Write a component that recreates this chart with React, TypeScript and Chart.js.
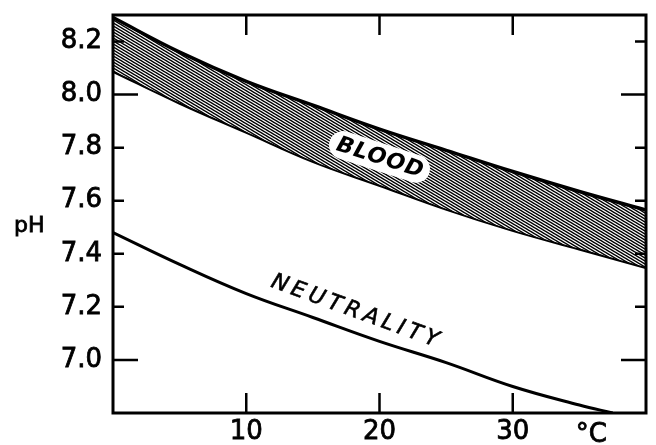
import { useEffect, useRef } from "react";
import { Chart, registerables } from "chart.js";

Chart.register(...registerables);

// ---- data ----
const tempC = [0, 5, 10, 15, 20, 25, 30, 35, 40];
const bloodUpper = [8.29, 8.16, 8.05, 7.96, 7.87, 7.79, 7.71, 7.635, 7.565];
const bloodLower = [8.09, 7.97, 7.86, 7.75, 7.66, 7.57, 7.49, 7.42, 7.35];
const neutralTemp = [0, 5, 10, 15, 20, 25, 30, 35, 37.5];
const neutrality = [7.48, 7.36, 7.25, 7.16, 7.07, 6.99, 6.9, 6.83, 6.8];
const xTickValues = [10, 20, 30];
const yTickValues = [7.0, 7.2, 7.4, 7.6, 7.8, 8.0, 8.2];
const xUnitLabel = "°C";
const yAxisLabel = "pH";
const bandLabel = "BLOOD";
const lineLabel = "NEUTRALITY";

const FONT = "'DejaVu Sans', 'Liberation Sans', sans-serif";

function makeHatch(): CanvasPattern | string {
  const c = document.createElement("canvas");
  c.width = 5;
  c.height = 3;
  const g = c.getContext("2d");
  if (!g) return "#777";
  g.fillStyle = "#fff";
  g.fillRect(0, 0, 5, 3);
  g.strokeStyle = "#000";
  g.lineWidth = 1.5;
  for (let k = -3; k <= 3; k++) {
    g.beginPath();
    g.moveTo(-5, -3 + 3 * k);
    g.lineTo(10, 6 + 3 * k);
    g.stroke();
  }
  const p = g.createPattern(c, "repeat");
  return p || "#777";
}

const framePlugin = {
  id: "framePlugin",
  afterDatasetsDraw(chart: any) {
    const { ctx, chartArea } = chart;
    const xs = chart.scales.x;
    const ys = chart.scales.y;
    const { left, right, top, bottom } = chartArea;
    ctx.save();

    // BLOOD label with white pill
    {
      const cx = xs.getPixelForValue(20);
      const cy = ys.getPixelForValue(7.765);
      ctx.translate(cx, cy);
      ctx.rotate((18 * Math.PI) / 180);
      ctx.font = `italic bold 22px ${FONT}`;
      (ctx as any).letterSpacing = "1px";
      const w = ctx.measureText(bandLabel).width;
      const L = w + 14;
      const H = 28;
      ctx.fillStyle = "#fff";
      ctx.beginPath();
      (ctx as any).roundRect(-L / 2, -H / 2, L, H, H / 2);
      ctx.fill();
      ctx.fillStyle = "#000";
      ctx.textAlign = "center";
      ctx.textBaseline = "middle";
      ctx.fillText(bandLabel, 1, 1);
      ctx.setTransform(1, 0, 0, 1, 0, 0);
    }

    // NEUTRALITY label
    {
      const cx = xs.getPixelForValue(18.3);
      const cy = ys.getPixelForValue(7.18);
      ctx.translate(cx, cy);
      ctx.rotate((20 * Math.PI) / 180);
      ctx.font = `italic 22px ${FONT}`;
      (ctx as any).letterSpacing = "4.5px";
      ctx.fillStyle = "#000";
      ctx.textAlign = "center";
      ctx.textBaseline = "middle";
      ctx.lineWidth = 0.6;
      ctx.strokeStyle = "#000";
      ctx.fillText(lineLabel, 0, 0);
      ctx.strokeText(lineLabel, 0, 0);
      ctx.setTransform(1, 0, 0, 1, 0, 0);
      (ctx as any).letterSpacing = "0px";
    }

    // frame
    ctx.strokeStyle = "#000";
    ctx.lineWidth = 3;
    ctx.strokeRect(left, top, right - left, bottom - top);

    // inward ticks
    ctx.lineWidth = 2.5;
    ctx.beginPath();
    for (const v of yTickValues) {
      const y = ys.getPixelForValue(v);
      const len = Math.abs(v - Math.round(v)) < 1e-6 ? 25 : 11;
      ctx.moveTo(left, y);
      ctx.lineTo(left + len, y);
      ctx.moveTo(right, y);
      ctx.lineTo(right - len, y);
    }
    for (const v of xTickValues) {
      const x = xs.getPixelForValue(v);
      ctx.moveTo(x, bottom);
      ctx.lineTo(x, bottom - 20);
      ctx.moveTo(x, top);
      ctx.lineTo(x, top + 20);
    }
    ctx.stroke();

    // axis labels
    ctx.fillStyle = "#000";
    ctx.strokeStyle = "#000";
    ctx.lineWidth = 0.8;
    ctx.font = `26px ${FONT}`;
    ctx.textAlign = "center";
    ctx.textBaseline = "alphabetic";
    const ux = xs.getPixelForValue(35.9);
    ctx.fillText(xUnitLabel, ux, 442);
    ctx.strokeText(xUnitLabel, ux, 442);
    ctx.font = `22px ${FONT}`;
    ctx.textAlign = "left";
    ctx.fillText(yAxisLabel, 14, 232);
    ctx.strokeText(yAxisLabel, 14, 232);
    ctx.restore();
  },
};

export default function App() {
  const ref = useRef<HTMLCanvasElement | null>(null);

  useEffect(() => {
    document.body.style.margin = "0";
    const canvas = ref.current;
    if (!canvas) return;
    const hatch = makeHatch();
    const chart = new Chart(canvas, {
      type: "line",
      data: {
        datasets: [
          {
            label: "Blood upper",
            data: tempC.map((x, i) => ({ x, y: bloodUpper[i] })),
            borderColor: "#000",
            borderWidth: 3.5,
            pointRadius: 0,
            tension: 0.4,
            fill: "+1",
            backgroundColor: hatch as any,
          },
          {
            label: "Blood lower",
            data: tempC.map((x, i) => ({ x, y: bloodLower[i] })),
            borderColor: "#000",
            borderWidth: 4,
            pointRadius: 0,
            tension: 0.4,
            fill: false,
          },
          {
            label: "Neutrality",
            data: neutralTemp.map((x, i) => ({ x, y: neutrality[i] })),
            borderColor: "#000",
            borderWidth: 3,
            pointRadius: 0,
            tension: 0.4,
            fill: false,
          },
        ],
      },
      options: {
        animation: false,
        responsive: false,
        devicePixelRatio: 1,
        layout: { padding: { top: 15, right: 10, left: 0, bottom: 0 } },
        plugins: {
          legend: { display: false },
          tooltip: { enabled: false },
        },
        scales: {
          x: {
            type: "linear",
            min: 0,
            max: 40,
            grid: { display: false, drawTicks: false },
            border: { display: false },
            afterBuildTicks: (s: any) => {
              s.ticks = xTickValues.map((v) => ({ value: v }));
            },
            afterFit: (s: any) => {
              s.height = 32;
              s.paddingLeft = 0;
              s.paddingRight = 0;
            },
            ticks: {
              autoSkip: false,
              maxRotation: 0,
              padding: 4,
              color: "#000",
              textStrokeColor: "#000",
              textStrokeWidth: 0.8,
              font: { family: FONT, size: 26 },
              callback: (v: any) => String(v),
            },
          },
          y: {
            type: "linear",
            min: 6.8,
            max: 8.3,
            grid: { display: false, drawTicks: false },
            border: { display: false },
            afterBuildTicks: (s: any) => {
              s.ticks = yTickValues.map((v) => ({ value: v }));
            },
            afterFit: (s: any) => {
              s.width = 113;
              s.paddingTop = 0;
              s.paddingBottom = 0;
            },
            ticks: {
              autoSkip: false,
              padding: 11,
              color: "#000",
              textStrokeColor: "#000",
              textStrokeWidth: 0.8,
              font: { family: FONT, size: 26 },
              callback: (v: any) => Number(v).toFixed(1),
            },
          },
        },
      },
      plugins: [framePlugin],
    });
    return () => chart.destroy();
  }, []);

  return (
    <div style={{ width: 656, height: 445, background: "#fff" }}>
      <canvas ref={ref} width={656} height={445} />
    </div>
  );
}
